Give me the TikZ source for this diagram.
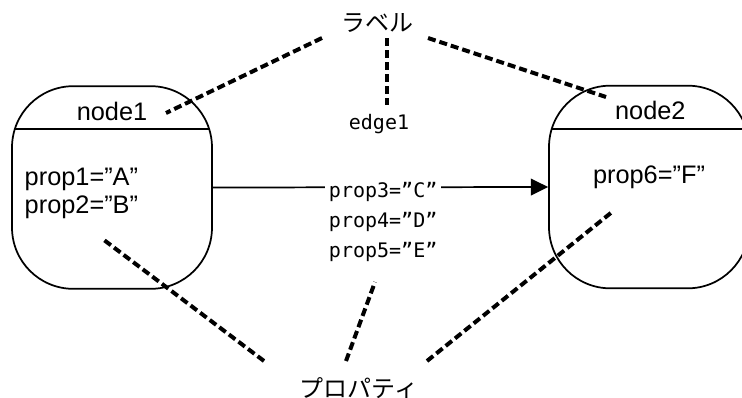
\documentclass[tikz,border=0pt]{standalone}
\usepackage{fontspec}
\setmainfont{Liberation Sans}
\newfontfamily\jpfont{Noto Sans CJK JP}
\newfontfamily\edgefont{DejaVu Sans Mono}
\usetikzlibrary{arrows.meta,positioning,calc}

\begin{document}
\begin{tikzpicture}[x=0.75pt, y=-0.75pt,
    box/.style={draw, line width=1.3pt, rounded corners=46pt,
                minimum width=150pt, minimum height=152pt},
    ttl/.style={inner sep=0pt, font=\fontsize{19}{18}\selectfont},
    props/.style={inner sep=0pt, align=left, font=\fontsize{19}{18.5}\selectfont},
    elbl/.style={inner sep=3pt, align=center, font=\edgefont\fontsize{15}{22.5}\selectfont},
    jlbl/.style={inner sep=0pt, font=\jpfont\fontsize{18}{20}\selectfont},
    arr/.style={-{Triangle[length=13pt, width=12.5pt]}, line width=1.3pt},
    note/.style={line width=3pt, dash pattern=on 6pt off 3pt}
  ]
  \clip (0,0) rectangle (742,397);
  \node[box] (n1) at (112,187.5) {};
  \node[box] (n2) at (649,187) {};
  \draw[line width=1.3pt] ([xshift=2pt, yshift=-33pt]n1.north west) -- ([xshift=-2pt, yshift=-33pt]n1.north east);
  \draw[line width=1.3pt] ([xshift=2pt, yshift=-33pt]n2.north west) -- ([xshift=-2pt, yshift=-33pt]n2.north east);
  \node[ttl] (t1) at ([yshift=-19.5pt]n1.north) {node1};
  \node[ttl] (t2) at ([yshift=-19.5pt, xshift=1pt]n2.north) {node2};
  \node[props, anchor=west] (p1) at ([xshift=10pt, yshift=-4.5pt]n1.west) {prop1=”A”\\[2.5pt]prop2=”B”};
  \node[props] (p6) at ([yshift=7.5pt]n2.center) {prop6=”F”};

  \draw[arr] (n1.east) -- (n2.west)
    node[midway, elbl, fill=white, anchor=north, yshift=7.5pt, xshift=2pt] (e3)
      {prop3=”C”\\prop4=”D”\\prop5=”E”};
  \node[elbl] (e1) at (379,124) {edge1};

  \node[jlbl] (lab) at (377,23) {ラベル};
  \node[jlbl] (prp) at (359,388) {プロパティ};

  \coordinate (a1) at (322,38);  \coordinate (b1) at (166,113);
  \coordinate (a2) at (387,38);  \coordinate (b2) at (387,105);
  \coordinate (a3) at (428,38);  \coordinate (b3) at (606,97);
  \coordinate (a4) at (264,361); \coordinate (b4) at (104,240);
  \coordinate (a5) at (346,361); \coordinate (b5) at (375,282);
  \coordinate (a6) at (427,361); \coordinate (b6) at (612,212);
  \foreach \i in {1,...,6}
    \draw[note] (a\i) -- (b\i);
\end{tikzpicture}
\end{document}
